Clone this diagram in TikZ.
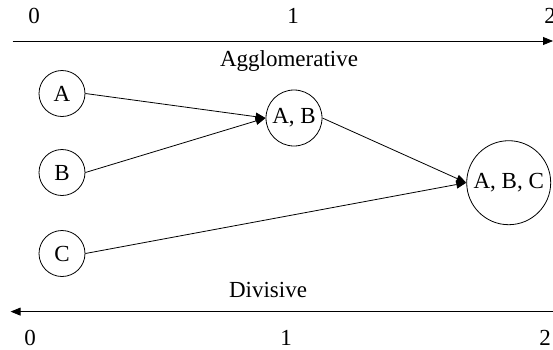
\documentclass[tikz,border=0pt]{standalone}
\usepackage{fontspec}
\setmainfont{Liberation Serif}
\usetikzlibrary{arrows.meta}
\tikzset{
    every node/.style={font=\fontsize{23}{27}\selectfont},
    cluster/.style={circle,draw,line width=0.8pt,inner sep=1pt,minimum size=46pt},
    merge/.style={draw,line width=0.8pt,-{Triangle[length=10pt,width=8pt]}},
    tick/.style={anchor=base,inner sep=0pt}
}

\begin{document}
\begin{tikzpicture}[x=1pt,y=-1pt]
\useasboundingbox (0,0) rectangle (553,349);
% distance scale, top and bottom
\foreach \i/\x in {0/34,1/293,2/550}{
    \node[tick] (top\i) at (\x,23) {\i};
}
\foreach \i/\x in {0/30,1/286,2/545}{
    \node[tick] (bot\i) at (\x,345) {\i};
}
\coordinate (aggl) at (12.7,41); \coordinate (aggr) at (553,41);
\coordinate (divl) at (10.6,311.6); \coordinate (divr) at (553,311.6);
\draw[merge] (aggl) -- (aggr);
\draw[merge] (divr) -- (divl);
\node[tick] (agglabel) at (289,66) {Agglomerative};
\node[tick] (divlabel) at (268,297) {Divisive};
% clusters
\node[cluster] (A) at (62,93.5) {A};
\node[cluster] (B) at (62,172.5) {B};
\node[cluster] (C) at (62,253.5) {C};
\node[cluster,minimum size=56pt] (AB) at (294,118) {A, B};
\node[cluster,minimum size=84pt] (ABC) at (508.7,182.7) {A, B, C};
\draw[merge] (A.east) -- (AB.west);
\draw[merge] (B.east) -- (AB.west);
\draw[merge] (AB.east) -- (ABC.west);
\draw[merge] (C.east) -- (ABC.west);
\end{tikzpicture}
\end{document}
